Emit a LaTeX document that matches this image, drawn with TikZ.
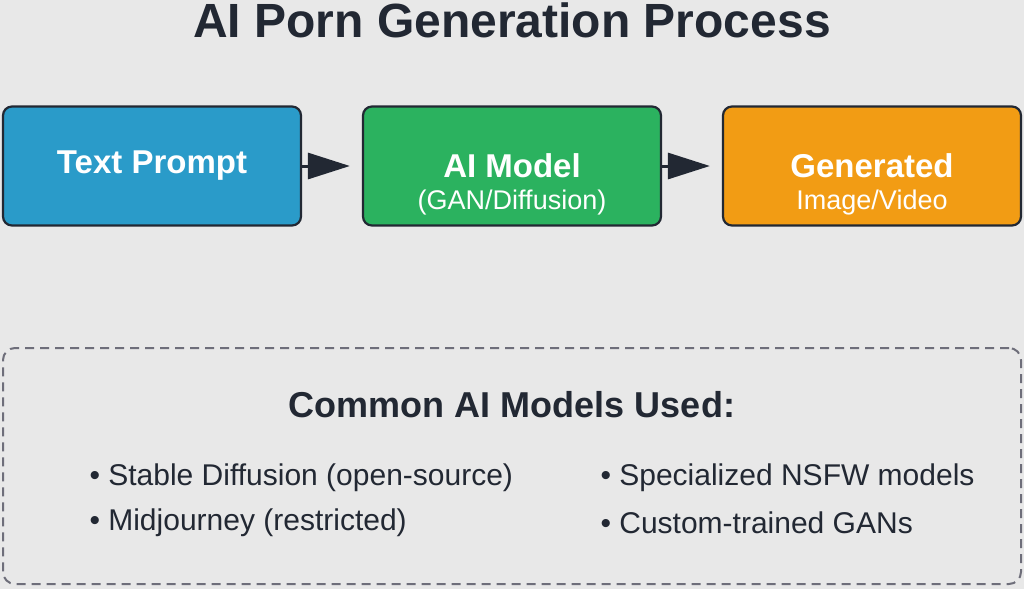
\documentclass[tikz,border=0pt]{standalone}
\usepackage{fontspec}
\setmainfont{Liberation Sans}
\usetikzlibrary{arrows.meta}
\definecolor{bg}{HTML}{E8E8E8}
\definecolor{ink}{HTML}{222833}
\definecolor{cblue}{HTML}{2A9BC9}
\definecolor{cgreen}{HTML}{2BB25F}
\definecolor{corange}{HTML}{F29C14}
\definecolor{dash}{HTML}{6E6E7A}
\begin{document}
\begin{tikzpicture}[x=1pt,y=-1pt,
  box/.style={draw=ink,line width=2.2pt,rounded corners=9pt,minimum width=298pt,minimum height=119pt,inner sep=0pt},
  lbl/.style={text=white,font=\bfseries\fontsize{33}{38}\selectfont},
  sub/.style={text=white,font=\fontsize{27}{31}\selectfont},
  arr/.style={draw=ink,line width=3pt,shorten >=12pt,-{Triangle[length=42pt,width=26pt]}},
  bul/.style={anchor=west,text=ink,font=\fontsize{30}{34}\selectfont}]
\fill[bg] (0,0) rectangle (1024,589);
\useasboundingbox (0,0) rectangle (1024,589);
\node[text=ink,font=\bfseries\fontsize{48}{54}\selectfont] (title) at (512,20) {AI Porn Generation Process};
\node[box,fill=cblue] (b1) at (152,166) {};
\node[box,fill=cgreen] (b2) at (512,166) {};
\node[box,fill=corange] (b3) at (872,166) {};
\node[lbl] (t1) at (152,166) {Text Prompt};
\node[lbl] (t2) at (512,166) {AI Model};
\node[sub] (s2) at (512,203) {(GAN/Diffusion)};
\node[lbl] (t3) at (872,166) {Generated};
\node[sub] (s3) at (872,203) {Image/Video};
\draw[arr] (b1.east) -- (b2.west);
\draw[arr] (b2.east) -- (b3.west);
\node[draw=dash,dashed,dash pattern=on 9pt off 6pt,line width=2pt,rounded corners=12pt,minimum width=1018pt,minimum height=236pt] (panel) at (512,466) {};
\node[text=ink,font=\bfseries\fontsize{36}{40}\selectfont] (head) at (512,405) {Common AI Models Used:};
\node[bul] (l1) at (86,478) {• Stable Diffusion (open-source)};
\node[bul] (l2) at (86,523) {• Midjourney (restricted)};
\node[bul] (r1) at (597,478) {• Specialized NSFW models};
\node[bul] (r2) at (597,523) {• Custom-trained GANs};
\end{tikzpicture}
\end{document}
